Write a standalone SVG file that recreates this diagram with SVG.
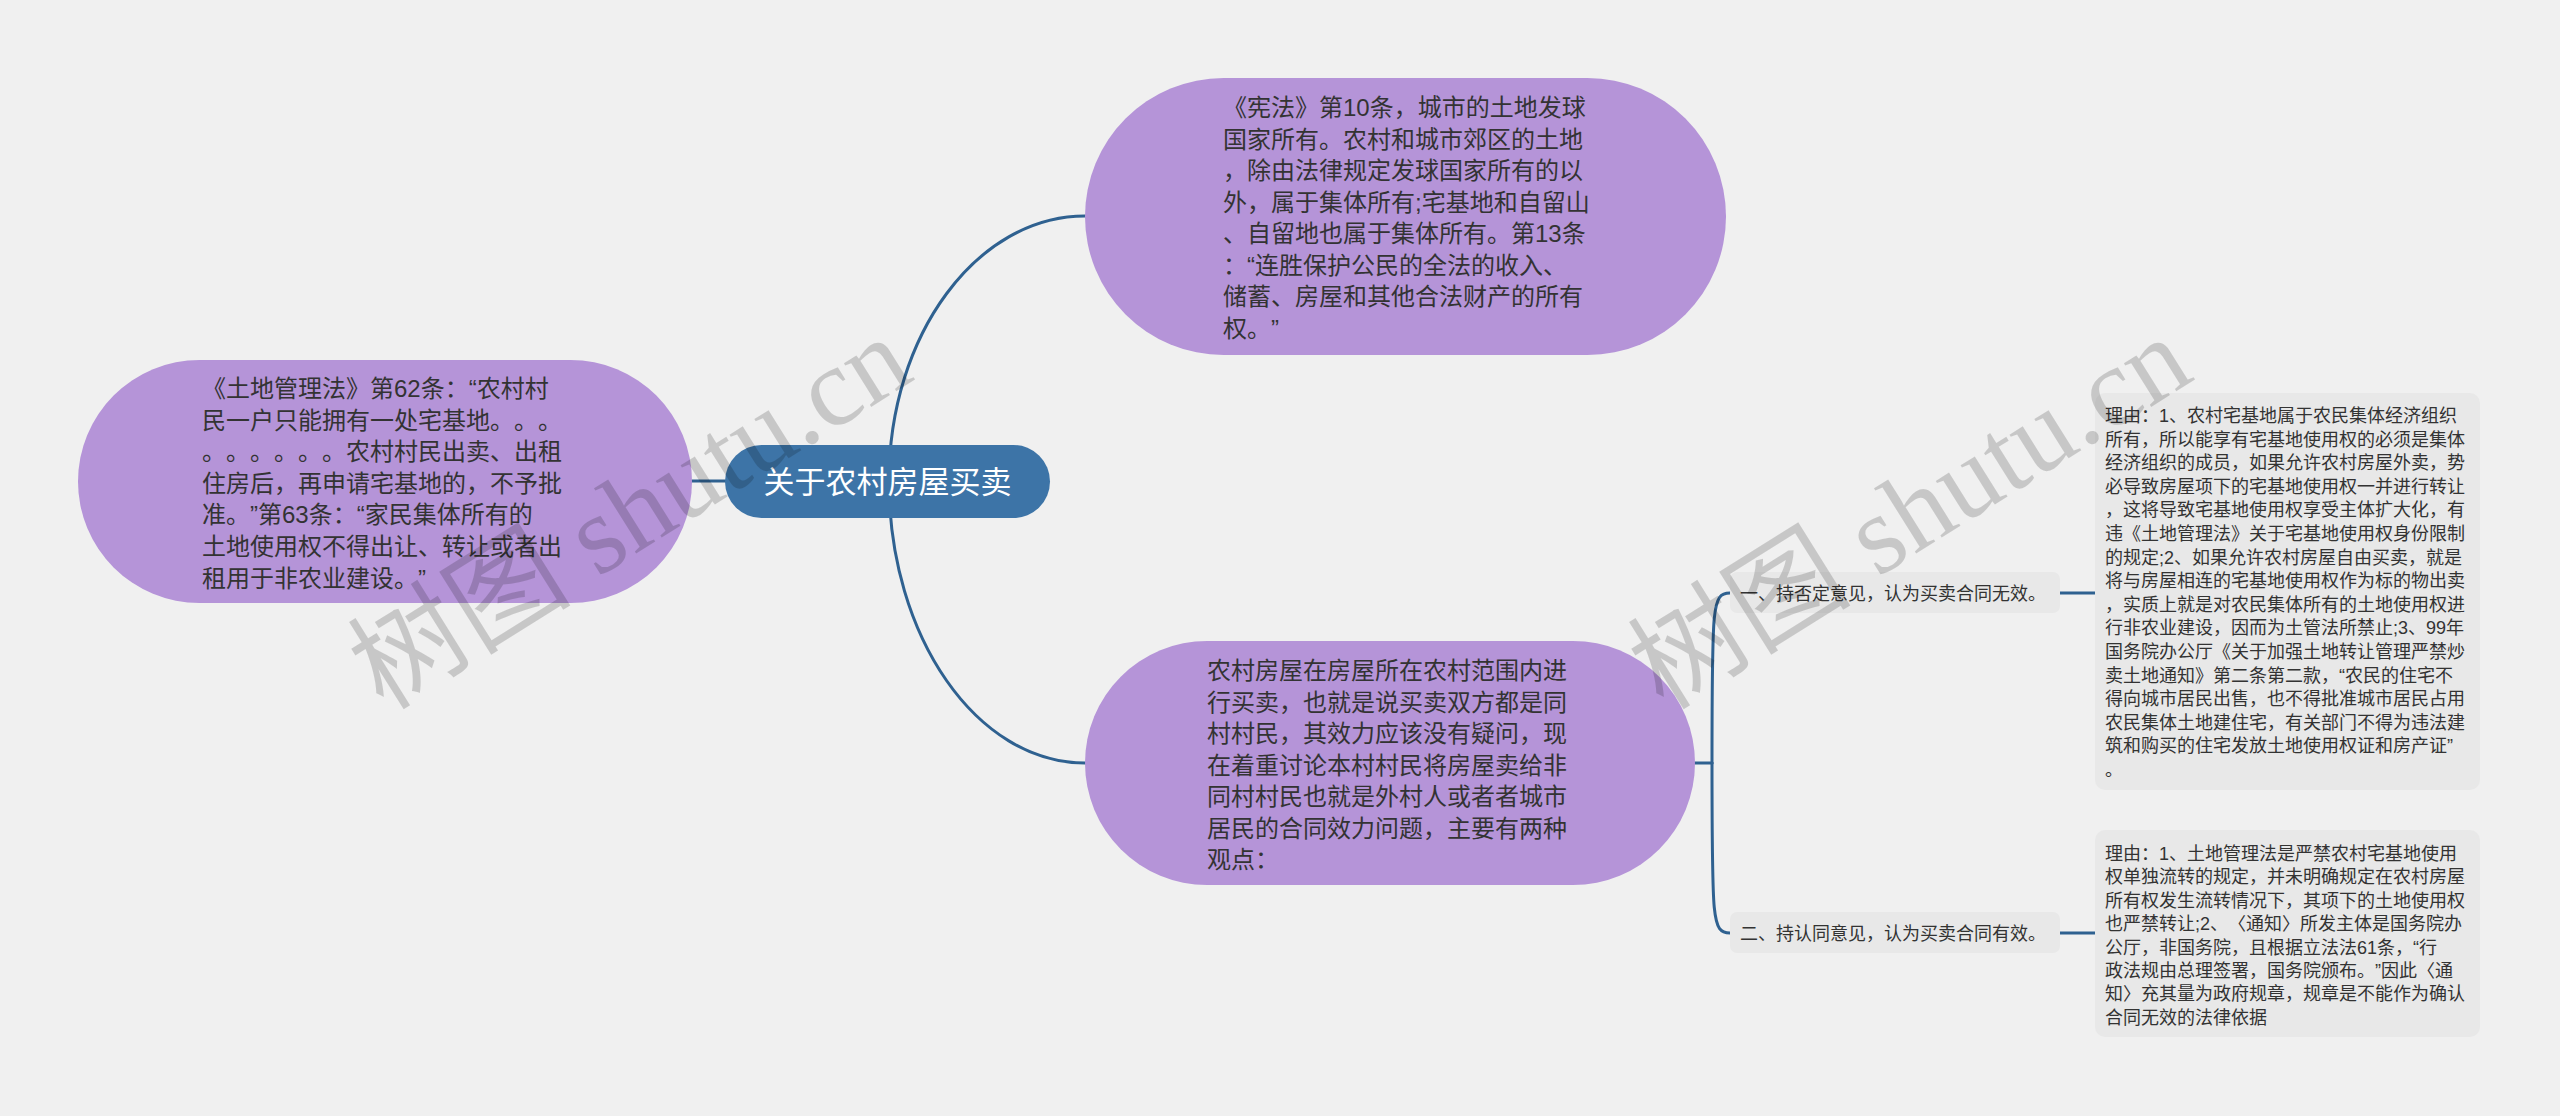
<svg xmlns="http://www.w3.org/2000/svg" width="2560" height="1116" viewBox="0 0 2560 1116">
<style>
.bg{fill:#f0f0f0}
.sub{fill:#b594d8}
.root{fill:#3d74a7}
.lbl{fill:#e8e8e8}
.box{fill:#e8e8e8}
text{text-spacing-trim:space-all}
.t24{font-family:"Liberation Sans","Noto Sans CJK SC",sans-serif;font-size:24px;fill:#333333}
.t18{font-family:"Liberation Sans","Noto Sans CJK SC",sans-serif;font-size:18px;fill:#333333}
.troot{font-family:"Liberation Sans","Noto Sans CJK SC",sans-serif;font-size:31px;fill:#ffffff}
.conn path{fill:none;stroke:#2f6190;stroke-width:3;stroke-linecap:round}
.wm{font-family:"Liberation Serif","Noto Sans CJK SC",serif;font-size:112px;fill:#000000;fill-opacity:0.17}
</style>
<rect class="bg" x="0" y="0" width="2560" height="1116"/>
<g id="connectors" class="conn">
<path d="M692,481 H725"/>
<path d="M889,481 C889,335 977,216 1085,216"/>
<path d="M889,481 C889,637 977,763 1085,763"/>
<path d="M1695,763 H1712"/>
<path d="M1712,763 C1712,605 1712,593 1730,593"/>
<path d="M1712,763 C1712,921 1712,933 1730,933"/>
<path d="M2060,593 H2095"/>
<path d="M2060,933 H2095"/>
</g>
<g id="root">
<rect class="root" x="725" y="445" width="325" height="73" rx="36.5"/>
<text class="troot" x="887.5" y="493" text-anchor="middle">关于农村房屋买卖</text>
</g>
<g id="node-left">
<rect class="sub" x="78" y="360" width="614" height="243" rx="121.5"/>
<text class="t24">
<tspan x="202" y="397">《土地管理法》第62条：“农村村</tspan>
<tspan x="202" y="428.6">民一户只能拥有一处宅基地。。。</tspan>
<tspan x="202" y="460.2">。。。。。。农村村民出卖、出租</tspan>
<tspan x="202" y="491.8">住房后，再申请宅基地的，不予批</tspan>
<tspan x="202" y="523.4">准。”第63条：“家民集体所有的</tspan>
<tspan x="202" y="555">土地使用权不得出让、转让或者出</tspan>
<tspan x="202" y="586.6">租用于非农业建设。”</tspan>
</text>
</g>
<g id="node-top">
<rect class="sub" x="1085" y="78" width="641" height="277" rx="138.5"/>
<text class="t24">
<tspan x="1223" y="116">《宪法》第10条，城市的土地发球</tspan>
<tspan x="1223" y="147.5">国家所有。农村和城市郊区的土地</tspan>
<tspan x="1223" y="179">，除由法律规定发球国家所有的以</tspan>
<tspan x="1223" y="210.5">外，属于集体所有;宅基地和自留山</tspan>
<tspan x="1223" y="242">、自留地也属于集体所有。第13条</tspan>
<tspan x="1223" y="273.5">：“连胜保护公民的全法的收入、</tspan>
<tspan x="1223" y="305">储蓄、房屋和其他合法财产的所有</tspan>
<tspan x="1223" y="336.5">权。”</tspan>
</text>
</g>
<g id="node-bottom">
<rect class="sub" x="1085" y="641" width="610" height="244" rx="122"/>
<text class="t24">
<tspan x="1207" y="679">农村房屋在房屋所在农村范围内进</tspan>
<tspan x="1207" y="710.5">行买卖，也就是说买卖双方都是同</tspan>
<tspan x="1207" y="742">村村民，其效力应该没有疑问，现</tspan>
<tspan x="1207" y="773.5">在着重讨论本村村民将房屋卖给非</tspan>
<tspan x="1207" y="805">同村村民也就是外村人或者者城市</tspan>
<tspan x="1207" y="836.5">居民的合同效力问题，主要有两种</tspan>
<tspan x="1207" y="868">观点：</tspan>
</text>
</g>
<g id="label-1">
<rect class="lbl" x="1730" y="572" width="330" height="41" rx="7"/>
<text class="t18" x="1740" y="600">一、持否定意见，认为买卖合同无效。</text>
</g>
<g id="label-2">
<rect class="lbl" x="1730" y="912" width="330" height="41" rx="7"/>
<text class="t18" x="1740" y="940">二、持认同意见，认为买卖合同有效。</text>
</g>
<g id="reason-1">
<rect class="box" x="2095" y="393" width="385" height="397" rx="10"/>
<text class="t18">
<tspan x="2105" y="422">理由：1、农村宅基地属于农民集体经济组织</tspan>
<tspan x="2105" y="445.6">所有，所以能享有宅基地使用权的必须是集体</tspan>
<tspan x="2105" y="469.2">经济组织的成员，如果允许农村房屋外卖，势</tspan>
<tspan x="2105" y="492.8">必导致房屋项下的宅基地使用权一并进行转让</tspan>
<tspan x="2105" y="516.4">，这将导致宅基地使用权享受主体扩大化，有</tspan>
<tspan x="2105" y="540">违《土地管理法》关于宅基地使用权身份限制</tspan>
<tspan x="2105" y="563.6">的规定;2、如果允许农村房屋自由买卖，就是</tspan>
<tspan x="2105" y="587.2">将与房屋相连的宅基地使用权作为标的物出卖</tspan>
<tspan x="2105" y="610.8">，实质上就是对农民集体所有的土地使用权进</tspan>
<tspan x="2105" y="634.4">行非农业建设，因而为土管法所禁止;3、99年</tspan>
<tspan x="2105" y="658">国务院办公厅《关于加强土地转让管理严禁炒</tspan>
<tspan x="2105" y="681.6">卖土地通知》第二条第二款，“农民的住宅不</tspan>
<tspan x="2105" y="705.2">得向城市居民出售，也不得批准城市居民占用</tspan>
<tspan x="2105" y="728.8">农民集体土地建住宅，有关部门不得为违法建</tspan>
<tspan x="2105" y="752.4">筑和购买的住宅发放土地使用权证和房产证”</tspan>
<tspan x="2105" y="776">。</tspan>
</text>
</g>
<g id="reason-2">
<rect class="box" x="2095" y="830" width="385" height="207" rx="10"/>
<text class="t18">
<tspan x="2105" y="860">理由：1、土地管理法是严禁农村宅基地使用</tspan>
<tspan x="2105" y="883.4">权单独流转的规定，并未明确规定在农村房屋</tspan>
<tspan x="2105" y="906.8">所有权发生流转情况下，其项下的土地使用权</tspan>
<tspan x="2105" y="930.2">也严禁转让;2、〈通知〉所发主体是国务院办</tspan>
<tspan x="2105" y="953.6">公厅，非国务院，且根据立法法61条，“行</tspan>
<tspan x="2105" y="977">政法规由总理签署，国务院颁布。”因此〈通</tspan>
<tspan x="2105" y="1000.4">知〉充其量为政府规章，规章是不能作为确认</tspan>
<tspan x="2105" y="1023.8">合同无效的法律依据</tspan>
</text>
</g>
<g id="watermark">
<text class="wm" x="0" y="0" text-anchor="middle" transform="translate(650,545) rotate(-32)">树图 shutu.cn</text>
<text class="wm" x="0" y="0" text-anchor="middle" transform="translate(1930,545) rotate(-32)">树图 shutu.cn</text>
</g>
</svg>
